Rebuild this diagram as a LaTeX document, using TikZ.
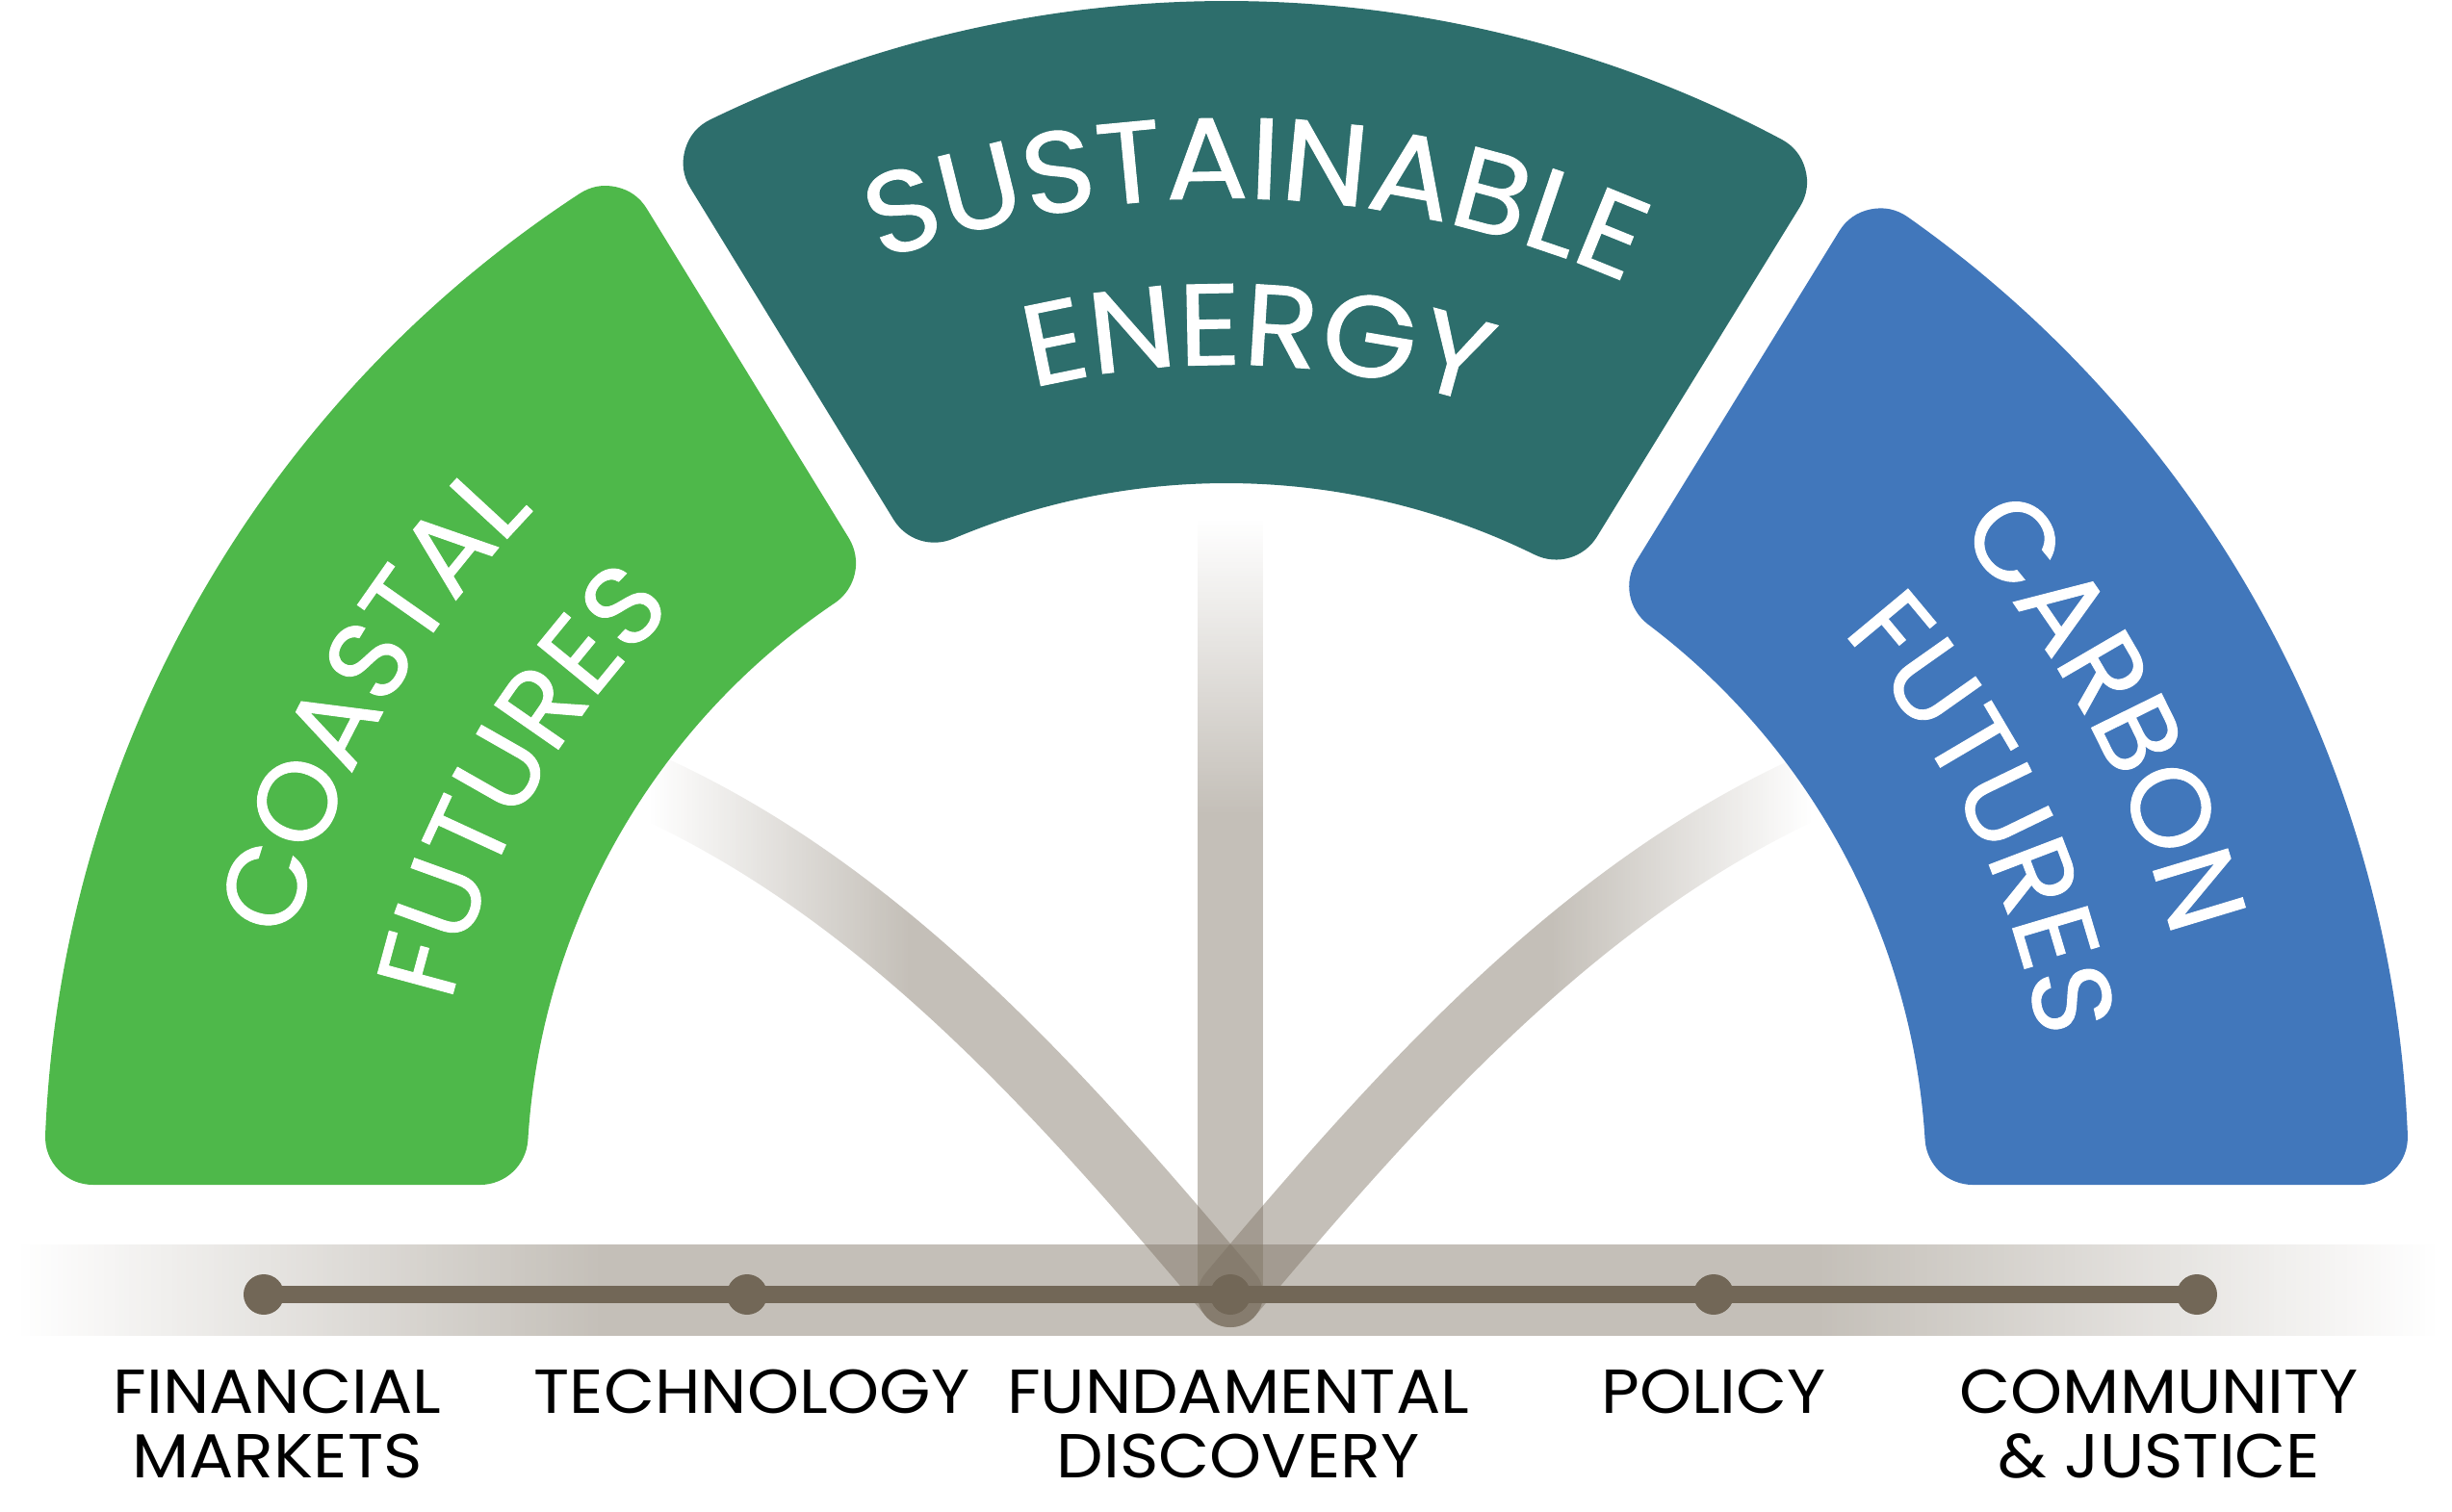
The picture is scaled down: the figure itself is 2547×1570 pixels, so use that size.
\documentclass[tikz,border=0pt]{standalone}
\usepackage{fontspec}
\setmainfont{Poppins}
\newfontfamily\secfam{Poppins}[FakeBold=0.8]
\newfontfamily\tealfam{Poppins}[FakeBold=0.8,FakeStretch=1.06]
\newfontfamily\lblfam{Poppins}[FakeStretch=1.065]
\usetikzlibrary{fadings,decorations.text}
\definecolor{cgreen}{HTML}{4EB84A}
\definecolor{cteal}{HTML}{2D6E6C}
\definecolor{cblue}{HTML}{4177BB}
\definecolor{cband}{HTML}{796E5E}
\definecolor{cdark}{HTML}{726757}
\newcommand{\sectfont}{\secfam\fontsize{58}{60}\selectfont}
\newcommand{\tealfont}{\tealfam\fontsize{60}{62}\selectfont}
\newcommand{\lblfont}{\lblfam\fontsize{32.25}{33.5}\selectfont}

\begin{tikzfadingfrompicture}[name=fadeH,x=0.5pt,y=0.5pt]
\fill[transparent!100] (-1300,-1300) rectangle (1300,1300);
\shade[left color=transparent!100,right color=transparent!0] (-1256,-1300) rectangle (-650,1300);
\fill[transparent!0] (-651,-1300) rectangle (616,1300);
\shade[left color=transparent!0,right color=transparent!100] (615,-1300) rectangle (1258,1300);
\end{tikzfadingfrompicture}

\begin{tikzfadingfrompicture}[name=fadeV,x=0.5pt,y=0.5pt]
\fill[transparent!100] (-1300,-1300) rectangle (1300,1300);
\fill[transparent!0] (-1300,-1300) rectangle (1300,385);
\shade[bottom color=transparent!0,top color=transparent!100] (-1300,384) rectangle (1300,690);
\end{tikzfadingfrompicture}

\begin{tikzfadingfrompicture}[name=fadeL,x=0.5pt,y=0.5pt]
\fill[transparent!100] (-1300,-1300) rectangle (1300,1300);
\shade[left color=transparent!100,right color=transparent!0] (-600,-1300) rectangle (-330,1300);
\fill[transparent!0] (-331,-1300) rectangle (1300,1300);
\end{tikzfadingfrompicture}

\begin{tikzfadingfrompicture}[name=fadeR,x=0.5pt,y=0.5pt]
\fill[transparent!100] (-1300,-1300) rectangle (1300,1300);
\fill[transparent!0] (-1300,-1300) rectangle (339,1300);
\shade[left color=transparent!0,right color=transparent!100] (338,-1300) rectangle (608,1300);
\end{tikzfadingfrompicture}

\begin{document}
\begin{tikzpicture}[x=0.5pt,y=0.5pt,
  band/.style={draw=cband, draw opacity=0.44, line width=34pt, line cap=round},
  sector/.style={line width=50pt, line join=round},
  dotnode/.style={circle, fill=cdark, draw=none, inner sep=0pt, minimum size=21pt},
  bottomlabel/.style={anchor=north, align=center, inner sep=0pt, font=\lblfont, text=black},
  arctext/.style={decorate, decoration={text along path, text align=center, text color=white}}
]
\useasboundingbox (-1274,-341) rectangle (1273,1229);

% ---- translucent bands ----
\coordinate (hub) at (4,-116);
\coordinate (vtop) at (4,700);
\coordinate (lstart) at (-589,407);
\coordinate (rstart) at (597,407);
\coordinate (hbl) at (-1254,-64);
\coordinate (hbr) at (1256,-159);

\fill[cband, fill opacity=0.44, path fading=fadeH, fit fading=false] (hbl) rectangle (hbr);
\draw[band, path fading=fadeV, fit fading=false] (vtop) -- (hub);
\draw[band, path fading=fadeL, fit fading=false] (lstart) .. controls (-350,295) and (-166,86) .. (hub);
\draw[band, path fading=fadeR, fit fading=false] (rstart) .. controls (358,295) and (174,86) .. (hub);

% ---- gauge sectors ----
\filldraw[sector, fill=cgreen, draw=cgreen]
  (177.665:1178) arc[start angle=177.665, end angle=123.18, radius=1178]
  -- (124.04:777) arc[start angle=124.04, end angle=176.46, radius=777] -- cycle;
\filldraw[sector, fill=cteal, draw=cteal]
  (115.886:1178) arc[start angle=115.886, end angle=62.002, radius=1178]
  -- (63.865:777) arc[start angle=63.865, end angle=112.97, radius=777] -- cycle;
\filldraw[sector, fill=cblue, draw=cblue]
  (54.798:1178) arc[start angle=54.798, end angle=2.335, radius=1178]
  -- (3.54:777) arc[start angle=3.54, end angle=52.935, radius=777] -- cycle;

% ---- curved sector texts ----
\path[arctext, decoration={text={|\tealfont|SUSTAINABLE}}]
  (128.3:1023) arc[start angle=128.3, end angle=48.3, radius=1023];
\path[arctext, decoration={text={|\tealfont|ENERGY}}]
  (127.9:850) arc[start angle=127.9, end angle=47.9, radius=850];
\path[arctext, decoration={text={|\sectfont|COASTAL}}]
  (190.6:1003) arc[start angle=190.6, end angle=110.6, radius=1003];
\path[arctext, decoration={text={|\sectfont|FUTURES}}]
  (190.4:827) arc[start angle=190.4, end angle=110.4, radius=827];
\path[arctext, decoration={text={|\sectfont|CARBON}}]
  (68.1:1015) arc[start angle=68.1, end angle=-11.9, radius=1015];
\path[arctext, decoration={text={|\sectfont|FUTURES}}]
  (65.9:858) arc[start angle=65.9, end angle=-14.1, radius=858];

% ---- axis line and dots ----
\node[dotnode] (d1) at (-1000,-116) {};
\node[dotnode] (d2) at (-498,-116) {};
\node[dotnode] (d3) at (hub) {};
\node[dotnode] (d4) at (506,-116) {};
\node[dotnode] (d5) at (1008,-116) {};
\draw[cdark, line width=9pt] (d1.center) -- (d2.center) -- (d3.center) -- (d4.center) -- (d5.center);

% ---- labels ----
\node[bottomlabel] (lfin) at (-986,-194) {FINANCIAL\\MARKETS};
\node[bottomlabel] (ltech) at (-493,-194) {TECHNOLOGY};
\node[bottomlabel] (lfund) at (12,-194) {FUNDAMENTAL\\DISCOVERY};
\node[bottomlabel] (lpol) at (506,-194) {POLICY};
\node[bottomlabel] (lcom) at (969,-194) {COMMUNITY\\\& JUSTICE};
\end{tikzpicture}
\end{document}
